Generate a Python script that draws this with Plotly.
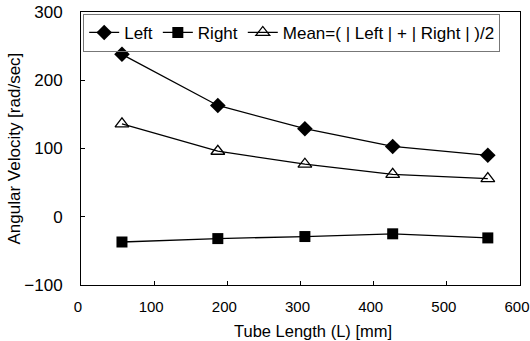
import plotly.graph_objects as go

tube_length = [56, 187, 306, 426, 556]
left = [238, 163, 129, 103, 90]
right = [-37, -32, -29, -25, -31]
mean = [136, 96, 77, 62, 56]

fig = go.Figure()
fig.add_trace(go.Scatter(x=tube_length, y=left, mode="lines+markers", name="Left",
                         line=dict(color="black", width=1.3),
                         marker=dict(symbol="diamond", size=12, color="black")))
fig.add_trace(go.Scatter(x=tube_length, y=right, mode="lines+markers", name="Right",
                         line=dict(color="black", width=1.3),
                         marker=dict(symbol="square", size=11, color="black")))
fig.add_trace(go.Scatter(x=tube_length, y=mean, mode="lines+markers",
                         name="Mean=( | Left | + | Right | )/2",
                         line=dict(color="black", width=1.3),
                         marker=dict(symbol="triangle-up-open", size=12, color="black",
                                     line=dict(width=1.3, color="black"))))

fig.update_layout(
    width=530, height=341,
    margin=dict(l=81, r=10, t=12, b=56),
    paper_bgcolor="white", plot_bgcolor="white",
    font=dict(family="Liberation Sans, Arial", size=16, color="black"),
    legend=dict(orientation="h", x=0.005, y=0.993, xanchor="left", yanchor="top",
                bordercolor="#777", borderwidth=1, bgcolor="rgba(255,255,255,0)",
                font=dict(size=17), tracegroupgap=0),
    showlegend=True,
    annotations=[
        dict(text="Tube Length (L) [mm]", xref="paper", yref="paper",
             x=0.528, y=-0.1685, xanchor="center", yanchor="middle",
             showarrow=False, font=dict(size=16.5)),
        dict(text="Angular Velocity [rad/sec]", xref="paper", yref="paper",
             x=-0.1526, y=0.5, xanchor="center", yanchor="middle", textangle=-90,
             showarrow=False, font=dict(size=17)),
    ],
)
fig.update_xaxes(range=[0, 600], dtick=100, showgrid=False, zeroline=False,
                 showline=True, linecolor="black", linewidth=1, mirror=True,
                 ticks="inside", ticklen=4, tickcolor="black", automargin=False,
                 ticklabelstandoff=8, ticklabeloverflow="allow", ticklabelshift=-3,
                 tickfont=dict(size=15))
fig.update_yaxes(range=[-100, 300], dtick=100, showgrid=False, zeroline=False,
                 showline=True, linecolor="black", linewidth=1, mirror=True,
                 ticks="inside", ticklen=4, tickcolor="black", automargin=False,
                 ticklabelstandoff=14, ticklabeloverflow="allow",
                 tickfont=dict(size=17))

fig.write_html("out.html", post_script="document.body.style.margin='0';",
               config={"displayModeBar": False})
